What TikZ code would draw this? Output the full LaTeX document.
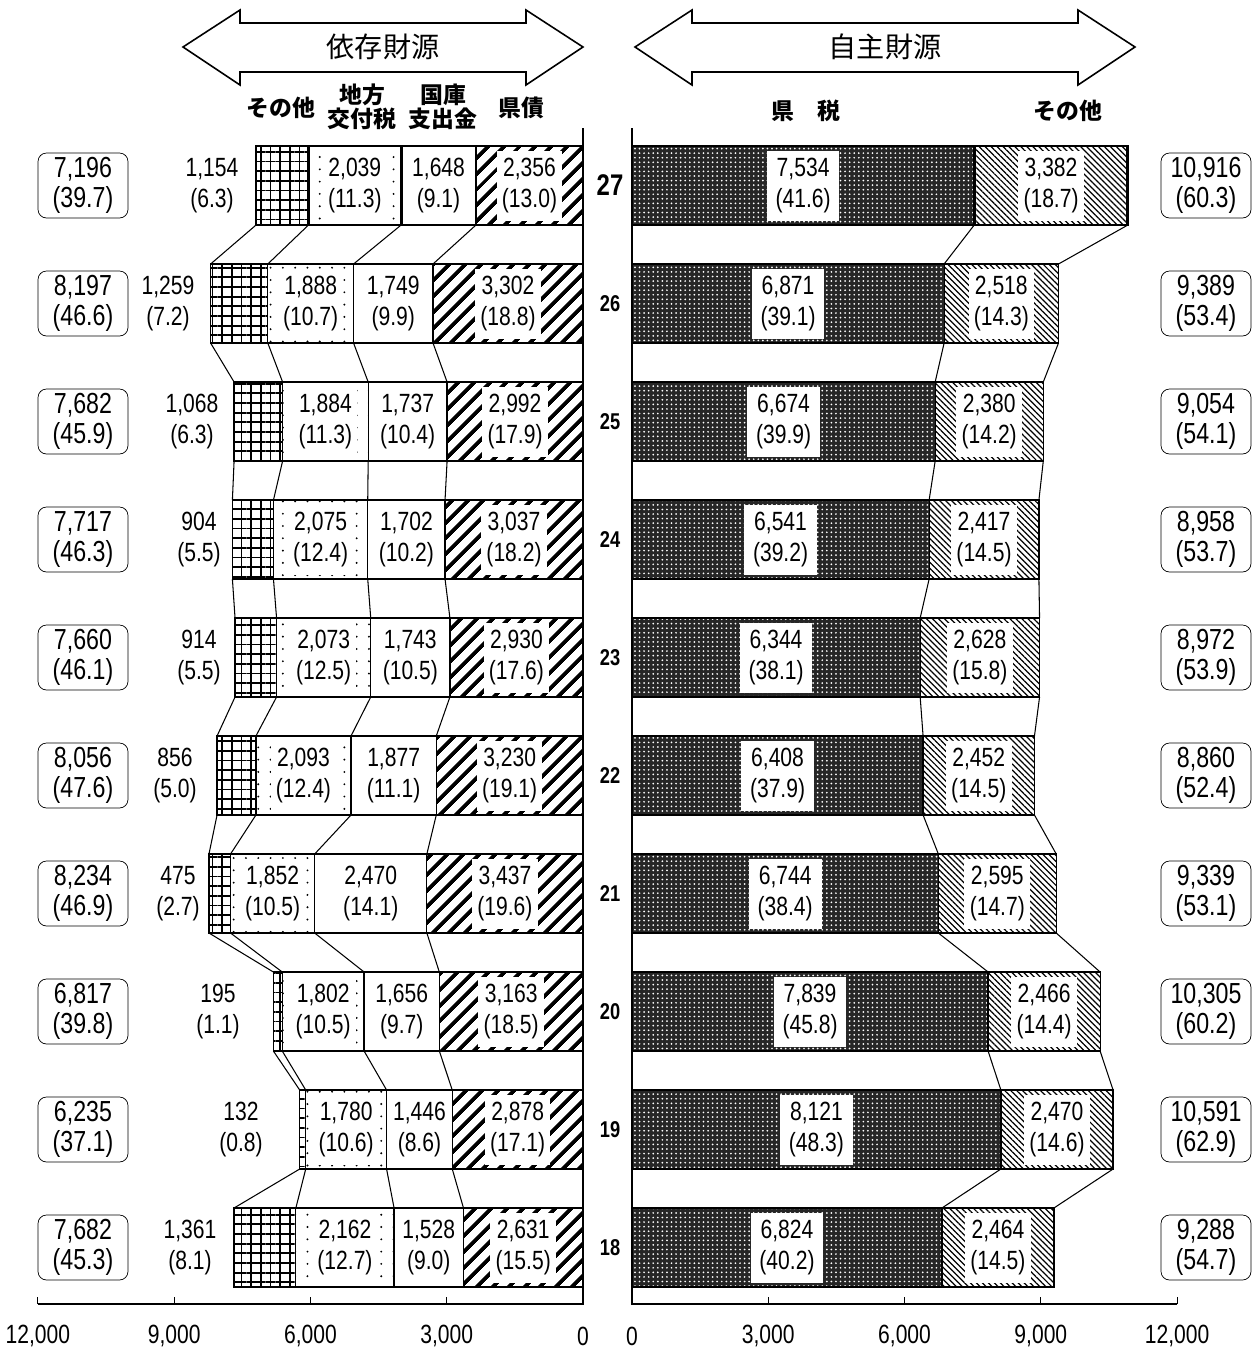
\documentclass[tikz,border=0pt]{standalone}
\usepackage{fontspec}
\setmainfont{Liberation Sans}[FakeStretch=0.8]
\newfontfamily\jp{Noto Sans CJK JP}
\usetikzlibrary{patterns, patterns.meta, positioning}
\newcommand{\sx}{0.04542}
\newcommand{\vnum}[1]{\pgfmathprintnumber[assume math mode=true,1000 sep={,}]{#1}}
\newcommand{\vpct}[1]{(\pgfmathprintnumber[assume math mode=true,fixed,fixed zerofill,precision=1]{#1})}
\begin{document}
\begin{tikzpicture}[x=0.02cm, y=-0.02cm,
	bar/.style={draw, line width=0.7pt},
	link/.style={line width=0.6pt},
	val/.style={fill=white, align=center, inner xsep=3pt, inner ysep=0pt, minimum height=1.4cm, font=\fontsize{15}{17.5}\selectfont},
	lab/.style={align=center, font=\fontsize{15}{17.5}\selectfont},
	tot/.style={draw, rounded corners=0.17cm, align=center, minimum width=1.8cm, minimum height=1.3cm, inner sep=1pt, font=\fontsize{16.5}{17}\selectfont},
	hdr/.style={align=center, font=\jp\bfseries\fontsize{13}{12}\selectfont},
	yr/.style={font=\fontsize{13}{13}\selectfont\bfseries},
	pSo/.style={pattern={Hatch[angle=0,distance=5.5pt,line width=1pt]}},
	pKf/.style={pattern={Dots[distance=7pt,radius=0.6pt]}},
	pKs/.style={pattern={Lines[angle=45,distance=6.4pt,line width=2.2pt]}},
	pKz/.style={preaction={fill=black!85}, pattern={Dots[distance=2.6pt,radius=0.55pt]}, pattern color=white},
	pRo/.style={pattern={Lines[angle=-45,distance=2.4pt,line width=0.7pt]}}]
	\useasboundingbox (0,0) rectangle (1255,1350);
	% 見出しの矢印
	\foreach \xl/\xr/\txt/\nm in {183/583/依存財源/dep, 635/1135/自主財源/own} {
		\draw[line width=0.9pt] (\xl,47) -- ++(57,-37) -- ++(0,13) -- (\xr-57,23) -- ++(0,-13) -- (\xr,47)
			-- ++(-57,38) -- ++(0,-13) -- (\xl+57,72) -- ++(0,13) -- cycle;
		\node[font=\jp\fontsize{16}{16}\selectfont] (\nm) at ({(\xl+\xr)/2},47) {\txt};
	}
	% 項目名
	\node[hdr] (hso) at (281,108) {その他};
	\node[hdr] (hkf) at (362,107) {地方\\交付税};
	\node[hdr] (hkk) at (443,107) {国庫\\支出金};
	\node[hdr] (hks) at (521,108) {県債};
	\node[hdr] (hkz) at (806,111) {県　税};
	\node[hdr] (hro) at (1068,111) {その他};
	% 各年度の棒
	\foreach \i/\yr/\lt/\ltp/\so/\sop/\kf/\kfp/\kk/\kkp/\ks/\ksp/\kz/\kzp/\ro/\rop/\rt/\rtp/\lx in {
		0/27/7196/39.7/1154/6.3/2039/11.3/1648/9.1/2356/13.0/7534/41.6/3382/18.7/10916/60.3/212,
		1/26/8197/46.6/1259/7.2/1888/10.7/1749/9.9/3302/18.8/6871/39.1/2518/14.3/9389/53.4/168,
		2/25/7682/45.9/1068/6.3/1884/11.3/1737/10.4/2992/17.9/6674/39.9/2380/14.2/9054/54.1/192,
		3/24/7717/46.3/904/5.5/2075/12.4/1702/10.2/3037/18.2/6541/39.2/2417/14.5/8958/53.7/199,
		4/23/7660/46.1/914/5.5/2073/12.5/1743/10.5/2930/17.6/6344/38.1/2628/15.8/8972/53.9/199,
		5/22/8056/47.6/856/5.0/2093/12.4/1877/11.1/3230/19.1/6408/37.9/2452/14.5/8860/52.4/175,
		6/21/8234/46.9/475/2.7/1852/10.5/2470/14.1/3437/19.6/6744/38.4/2595/14.7/9339/53.1/178,
		7/20/6817/39.8/195/1.1/1802/10.5/1656/9.7/3163/18.5/7839/45.8/2466/14.4/10305/60.2/218,
		8/19/6235/37.1/132/0.8/1780/10.6/1446/8.6/2878/17.1/8121/48.3/2470/14.6/10591/62.9/241,
		9/18/7682/45.3/1361/8.1/2162/12.7/1528/9.0/2631/15.5/6824/40.2/2464/14.5/9288/54.7/190} {
		\pgfmathsetmacro\yt{146+118*\i}
		\pgfmathsetmacro\yb{\yt+79}
		\pgfmathsetmacro\ym{\yt+39.5}
		\pgfmathsetmacro\xc{583-\sx*\ks}
		\pgfmathsetmacro\xb{\xc-\sx*\kk}
		\pgfmathsetmacro\xa{\xb-\sx*\kf}
		\pgfmathsetmacro\xo{\xa-\sx*\so}
		\pgfmathsetmacro\ra{632+\sx*\kz}
		\pgfmathsetmacro\rb{\ra+\sx*\ro}
		\pgfmathsetmacro\lw{\i==0 ? 1.6 : 0.7}
		% 依存財源
		\draw[bar, pSo, line width=\lw pt] (\xo,\yt) rectangle (\xa,\yb);
		\draw[bar, pKf, line width=\lw pt] (\xa,\yt) rectangle (\xb,\yb);
		\draw[bar, line width=\lw pt] (\xb,\yt) rectangle (\xc,\yb);
		\draw[bar, pKs, line width=\lw pt] (\xc,\yt) rectangle (583,\yb);
		% 自主財源
		\draw[bar, pKz, line width=\lw pt] (632,\yt) rectangle (\ra,\yb);
		\draw[bar, pRo, line width=\lw pt] (\ra,\yt) rectangle (\rb,\yb);
		% 境目の点
		\coordinate (lt\i-0) at (\xo,\yt); \coordinate (lb\i-0) at (\xo,\yb);
		\coordinate (lt\i-1) at (\xa,\yt); \coordinate (lb\i-1) at (\xa,\yb);
		\coordinate (lt\i-2) at (\xb,\yt); \coordinate (lb\i-2) at (\xb,\yb);
		\coordinate (lt\i-3) at (\xc,\yt); \coordinate (lb\i-3) at (\xc,\yb);
		\coordinate (rt\i-1) at (\ra,\yt); \coordinate (rb\i-1) at (\ra,\yb);
		\coordinate (rt\i-2) at (\rb,\yt); \coordinate (rb\i-2) at (\rb,\yb);
		% 数値
		\node[lab] (so\i) at (\lx,\ym) {\vnum{\so}\\\vpct{\sop}};
		\node[val] (kf\i) at ({(\xa+\xb)/2},\ym) {\vnum{\kf}\\\vpct{\kfp}};
		\node[val] (kk\i) at ({(\xb+\xc)/2},\ym) {\vnum{\kk}\\\vpct{\kkp}};
		\node[val] (ks\i) at ({(\xc+583)/2},\ym) {\vnum{\ks}\\\vpct{\ksp}};
		\node[val, inner xsep=5pt] (kz\i) at ({(632+\ra)/2},\ym) {\vnum{\kz}\\\vpct{\kzp}};
		\node[val] (ro\i) at ({(\ra+\rb)/2},\ym) {\vnum{\ro}\\\vpct{\rop}};
		\node[tot] (ltot\i) at (83,\ym) {\vnum{\lt}\\\vpct{\ltp}};
		\node[tot] (rtot\i) at (1206,\ym) {\vnum{\rt}\\\vpct{\rtp}};
		\node[yr] (yr\i) at (610,\ym) {\ifnum\i=0\fontsize{17}{17}\selectfont\fi\yr};
	}
	% 年度間の連結線
	\foreach \i in {0,...,8} {
		\pgfmathtruncatemacro\j{\i+1}
		\foreach \k in {0,1,2,3} \draw[link] (lb\i-\k) -- (lt\j-\k);
		\foreach \k in {1,2} \draw[link] (rb\i-\k) -- (rt\j-\k);
	}
	% 軸
	\draw[link] (38,1304) -- (583,1304) -- (583,128);
	\draw[link] (1177,1304) -- (632,1304) -- (632,128);
	\foreach \v in {3000,6000,9000,12000} {
		\draw[link] ({583-\sx*\v},1304) -- ++(0,-7);
		\draw[link] ({632+\sx*\v},1304) -- ++(0,-7);
	}
	\foreach \v in {0,3000,6000,9000,12000} {
		\node[lab] (al\v) at ({583-\sx*\v},1336) {\vnum{\v}};
		\node[lab] (ar\v) at ({632+\sx*\v},1336) {\vnum{\v}};
	}
\end{tikzpicture}
\end{document}
